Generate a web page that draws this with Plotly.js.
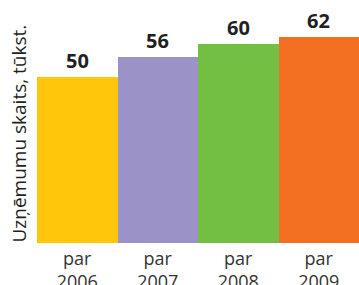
<!DOCTYPE html>
<html><head><meta charset="utf-8">
<script src="https://cdn.plot.ly/plotly-3.0.1.min.js"></script>
<style>html,body{margin:0;padding:0;background:#fff}#c{width:359px;height:285px}</style>
</head><body><div id="c"></div>
<script>
var years = [2006, 2007, 2008, 2009];
var tickLabels = ["par<br>2006", "par<br>2007", "par<br>2008", "par<br>2009"];
var values = [50, 56, 60, 62];
var colors = ["#FFC60B", "#9B93C7", "#72BF44", "#F36F21"];
var yTitle = "Uzņēmumu skaits, tūkst.";

var trace = {
  type: "bar",
  x: years,
  y: values,
  width: 1,
  marker: {color: colors, line: {width: 0}},
  hoverinfo: "none"
};
var annotations = years.map(function(y, i){
  return {x: y, y: values[i], xref: "x", yref: "y", text: "<b>" + values[i] + "</b>", showarrow: false,
    yanchor: "bottom", yshift: 1, font: {family: "Open Sans", size: 20, color: "#231F20"}};
});
annotations.push({xref: "paper", yref: "paper", x: 0, y: 0.4506, xanchor: "center", yanchor: "middle",
  xshift: -18, textangle: -90, showarrow: false, text: yTitle,
  font: {family: "Open Sans", size: 19, color: "#231F20"}});
var layout = {
  width: 359, height: 285,
  margin: {l: 37, r: 0, t: 0, b: 42},
  bargap: 0,
  paper_bgcolor: "#fff", plot_bgcolor: "#fff",
  showlegend: false,
  xaxis: {range: [2005.5, 2009.5], tickmode: "array", tickvals: years, ticktext: tickLabels, showline: false, ticks: "",
    showgrid: false, zeroline: false, tickangle: 0, ticklabelstandoff: 3,
    tickfont: {family: "Open Sans", size: 18, color: "#333"}},
  yaxis: {range: [0, 73.2], showticklabels: false, showgrid: false, zeroline: false, ticks: "", showline: false},
  annotations: annotations
};
Plotly.newPlot("c", [trace], layout, {staticPlot: true, displayModeBar: false});
</script></body></html>
